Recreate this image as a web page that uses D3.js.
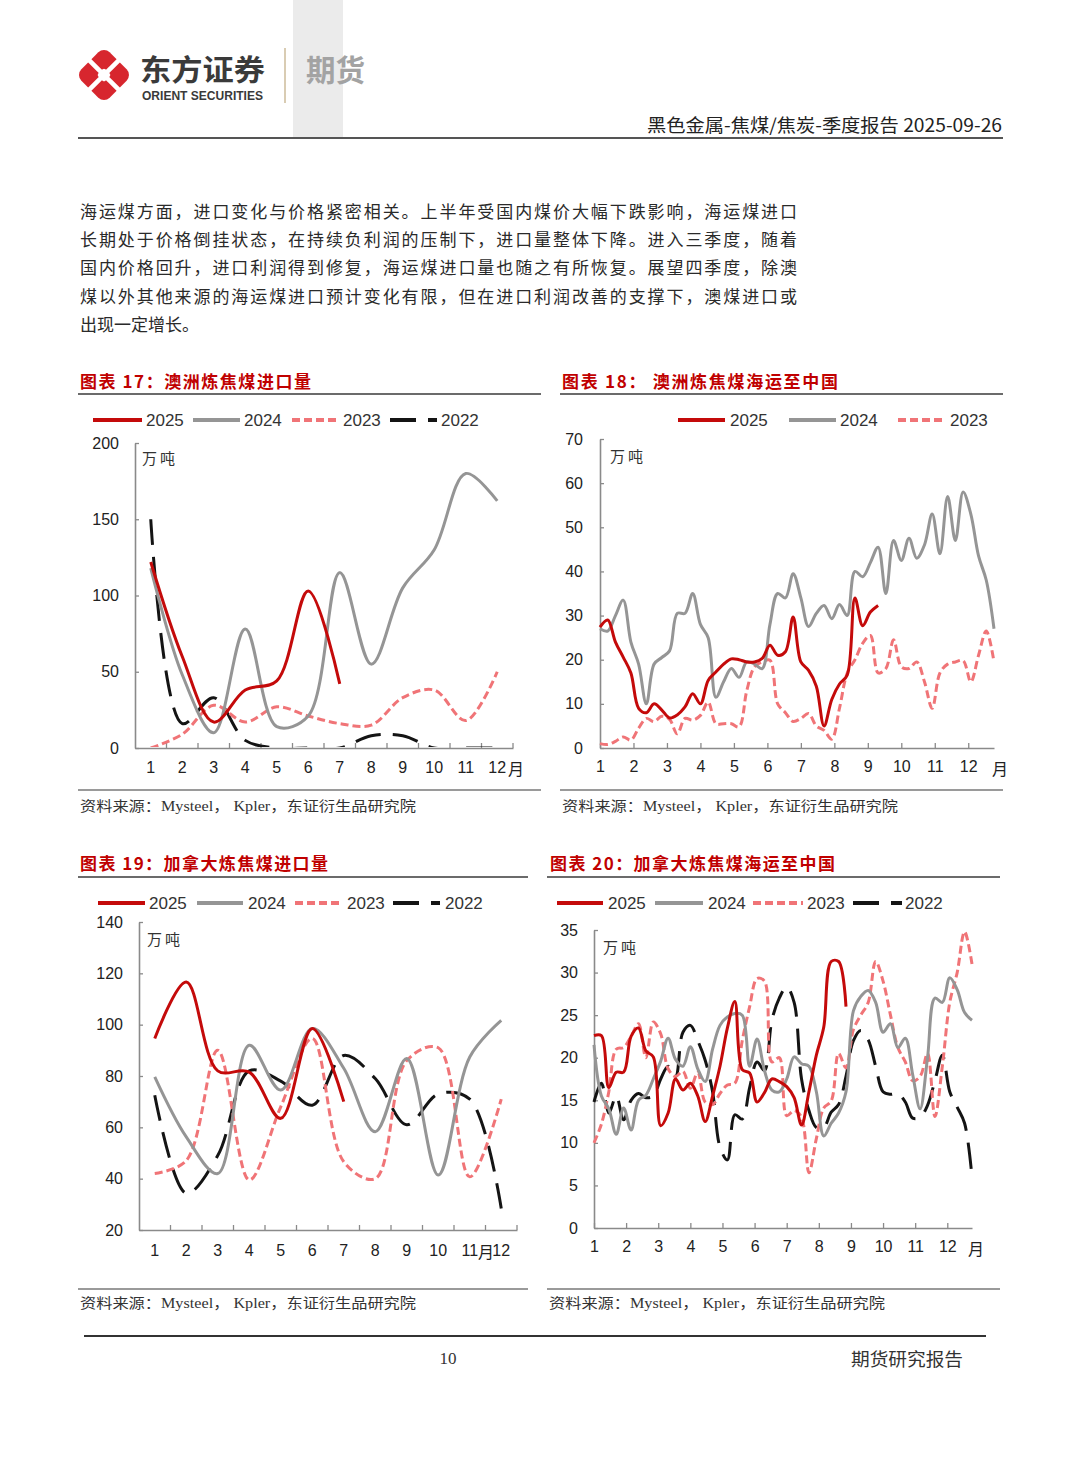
<!DOCTYPE html>
<html><head><meta charset="utf-8">
<script src="https://cdn.jsdelivr.net/npm/d3@7"></script>
<style>
body{margin:0;background:#fff;}
svg{display:block;}
</style></head><body>
<svg id="page" width="1080" height="1465"></svg>
<script>
// ---------- DATA ----------
const months = ["1","2","3","4","5","6","7","8","9","10","11","12"];
const years = ["2025","2024","2023","2022"];

// 图表17 澳洲炼焦煤进口量 (monthly, 万吨)
const auImp2025 = [122,60,17,38,44,103,42];
const auImp2024 = [118,48,10,78,14,21,115,55,105,130,180,162];
const auImp2023 = [0,9,28,17,27,21,16,15,33,38,18,50];
const auImp2022 = [150,16,33,5,0,0,0,8,8,0,0,0];

// 图表18 澳洲炼焦煤海运至中国 (weekly, 万吨)
const auSea2025 = [27.4,29,24,20.6,17,9,8,10,8.6,6.8,7.5,9.3,12.3,10,15.3,17.2,19,20.2,20,19.5,19.5,20.3,23.3,21,21.8,29.7,19.5,17.6,14,5,11,14.5,16.5,34,27.7,30.8,32.3];
const auSea2024 = [27,26.5,30,33.5,24,19,10,19,20.5,22,30.5,30.5,35,28,25,11.5,15,18,16,19.5,19,18,28,35,34,39.5,34,27.5,30.5,32.3,29.3,32.5,30,40,38.8,42,45.5,35,47,42.5,47.5,43,46,53,44,57,47,58,53,43.5,38,27];
const auSea2023 = [1,0.8,1.5,2.5,1.8,4.5,6.7,6,7.2,6.5,3.2,6.7,6.3,7.4,10.4,5.5,5.5,5.5,4.8,13,18.4,19.5,19.9,10,8,6,6.7,7.8,5,4,2,9,17,20,23.7,25.5,17,18,24.5,18.4,18,19.5,15,9,17,19,19.5,19.8,15,21,26.5,19.5];

// 图表19 加拿大炼焦煤进口量 (monthly, 万吨)
const caImp2025 = [94.6,116.6,82,81.5,63.5,98.5,70];
const caImp2024 = [79.7,56.3,42,92,74.5,98.5,83,58.3,86.8,41.4,87.4,101.7];
const caImp2023 = [42,47,90,39.5,68,94.6,46.6,40,86,91,40.7,71];
const caImp2022 = [72.5,34.3,49,82,78,68.6,88,79,61,73,71,28.4];

// 图表20 加拿大炼焦煤海运至中国 (weekly, 万吨)
const caSea2025 = [22.6,22.6,16.5,18.3,18.3,22.5,23.5,20.8,20.1,12,13.5,17.5,16.2,17,15.5,12.5,15.5,19,23.5,26.6,18.6,18.2,14.8,15.9,17.5,17.2,16.6,15.3,12.1,16,20.3,23.6,31.3,31.3,26];
const caSea2024 = [21.5,15.5,14,11,14.1,11.5,15,15.6,17.5,19.6,22.3,19.8,19,21.3,18.7,17.2,21,23.8,24.8,25.2,25,19,22.2,18.5,16.2,16,17.5,20.1,19.3,19,16,10.8,12.3,13.5,16,25.5,27.2,27.9,26.5,23,24,21.2,22.3,18,14,20,27,26.5,29.4,28,25.3,24.4];
const caSea2023 = [10,12.2,16,21,21.2,22.5,24,20,24.2,22.8,18.7,17.8,18.4,16.4,18.3,14.8,14.5,15.8,16.8,17,22,26,29.3,29,19.5,20,13.2,13.8,13,6.5,10.5,14.1,14.9,20.5,18.8,23.3,25,26.5,31.3,29,25,21.2,19.5,17.3,17.8,20.5,13.1,19,26.5,30,34.8,31];
const caSea2022 = [14.8,17,13.5,15.5,12.7,15,15.8,15.3,15.5,17.5,19,17.8,23,23.8,22,19.7,16,9.5,8,13.3,12.8,16.5,19.5,18.5,24.4,27,28.3,26.5,17.5,13.8,11.8,11.8,13.6,14.5,17.8,22,23.2,22.1,19,16,15.7,15.8,14.8,12.9,13,14.4,17.3,20.3,16,14.2,12.3,6];

const yTicks17 = [0,50,100,150,200];
const yTicks18 = [0,10,20,30,40,50,60,70];
const yTicks19 = [20,40,60,80,100,120,140];
const yTicks20 = [0,5,10,15,20,25,30,35];

const paragraph = [
  "海运煤方面，进口变化与价格紧密相关。上半年受国内煤价大幅下跌影响，海运煤进口",
  "长期处于价格倒挂状态，在持续负利润的压制下，进口量整体下降。进入三季度，随着",
  "国内价格回升，进口利润得到修复，海运煤进口量也随之有所恢复。展望四季度，除澳",
  "煤以外其他来源的海运煤进口预计变化有限，但在进口利润改善的支撑下，澳煤进口或",
  "出现一定增长。"
];
const sourceText = "资料来源：Mysteel，  Kpler，东证衍生品研究院";

// ---------- STYLE ----------
const FONT_CN = "'Noto Sans CJK SC', sans-serif";
const FONT_NUM = "'Liberation Sans', Arial, sans-serif";
const FONT_SERIF = "'Liberation Serif', 'Noto Sans CJK SC', serif";
const STY = {
  "2025": {color: "#c40a0a", dash: null},
  "2024": {color: "#959595", dash: null},
  "2023": {color: "#f07477", dash: "8,4"},
  "2022": {color: "#141414", dash: "26,12"}
};

const svg = d3.select("#page");

// ---------- HEADER ----------
svg.append("rect").attr("x", 293).attr("y", 0).attr("width", 50).attr("height", 138).attr("fill", "#ebebeb");
const logo = svg.append("g").attr("transform", "translate(104,75) rotate(45)");
logo.append("rect").attr("x", -20).attr("y", -20).attr("width", 40).attr("height", 40).attr("rx", 8).attr("fill", "#d7262e");
logo.append("rect").attr("x", -24).attr("y", -2.3).attr("width", 48).attr("height", 4.6).attr("fill", "#fff");
logo.append("rect").attr("x", -2.3).attr("y", -24).attr("width", 4.6).attr("height", 48).attr("fill", "#fff");
logo.append("rect").attr("x", -5).attr("y", -5).attr("width", 10).attr("height", 10).attr("rx", 2).attr("fill", "#fff");

svg.append("text").attr("x", 140).attr("y", 81).attr("font-family", FONT_CN).attr("font-weight", 700)
  .attr("font-size", 29).attr("fill", "#3a3a3a").attr("textLength", 125).attr("lengthAdjust", "spacingAndGlyphs").text("东方证券");
svg.append("text").attr("x", 142).attr("y", 100).attr("font-family", FONT_NUM).attr("font-weight", 700)
  .attr("font-size", 12).attr("fill", "#3a3a3a").attr("textLength", 121).attr("lengthAdjust", "spacingAndGlyphs").text("ORIENT SECURITIES");
svg.append("line").attr("x1", 285).attr("x2", 285).attr("y1", 48).attr("y2", 103).attr("stroke", "#cdbb9a").attr("stroke-width", 1.5);
svg.append("text").attr("x", 306).attr("y", 81).attr("font-family", FONT_CN).attr("font-weight", 700)
  .attr("font-size", 30).attr("fill", "#a3a3a3").attr("textLength", 59).attr("lengthAdjust", "spacingAndGlyphs").text("期货");
svg.append("line").attr("x1", 78).attr("x2", 1003).attr("y1", 138).attr("y2", 138).attr("stroke", "#555").attr("stroke-width", 2);
svg.append("text").attr("x", 1002).attr("y", 124).attr("text-anchor", "end").attr("dominant-baseline", "central")
  .attr("font-family", FONT_CN).attr("font-size", 18).attr("fill", "#222").attr("textLength", 355).attr("lengthAdjust", "spacingAndGlyphs")
  .text("黑色金属-焦煤/焦炭-季度报告 2025-09-26");

// ---------- PARAGRAPH ----------
const lineYs = [210, 238, 266, 295, 323];
paragraph.forEach((t, i) => {
  const tx = svg.append("text").attr("x", 80).attr("y", lineYs[i]).attr("dominant-baseline", "central")
    .attr("font-family", FONT_CN).attr("font-size", 17).attr("fill", "#2a2a2a").text(t);
  if (i < paragraph.length - 1) tx.attr("textLength", 717).attr("lengthAdjust", "spacing");
});

// ---------- CHART FUNCTION ----------
let clipId = 0;
function drawChart(o) {
  const g = svg.append("g");
  // title
  g.append("text").attr("x", o.title.x).attr("y", o.title.y).attr("dominant-baseline", "central")
    .attr("font-family", FONT_CN).attr("font-weight", 700).attr("font-size", 17).attr("fill", "#c00000")
    .attr("textLength", o.title.len).attr("lengthAdjust", "spacing").text(o.title.text);
  g.append("line").attr("x1", o.titleRule[0]).attr("x2", o.titleRule[1]).attr("y1", o.titleRule[2]).attr("y2", o.titleRule[2])
    .attr("stroke", "#3a3a3a").attr("stroke-width", 1.3);
  // source
  g.append("line").attr("x1", o.srcRule[0]).attr("x2", o.srcRule[1]).attr("y1", o.srcRule[2]).attr("y2", o.srcRule[2])
    .attr("stroke", "#9a9a9a").attr("stroke-width", 2);
  g.append("text").attr("x", o.src.x).attr("y", o.src.y).attr("dominant-baseline", "central")
    .attr("font-family", FONT_SERIF).attr("font-size", 14).attr("fill", "#333")
    .attr("textLength", 336).attr("lengthAdjust", "spacingAndGlyphs").text(sourceText);

  // scales
  const y = d3.scaleLinear().domain(o.yDomain).range([o.yBottom, o.yTop]);
  let x, xPos;
  if (o.type === "band") {
    x = d3.scaleBand().domain(months).range([o.x0, o.x1]);
    xPos = (d, i) => x(months[i]) + x.bandwidth() / 2;
  } else {
    x = d3.scaleLinear().domain([0, 51]).range([o.x0, o.x1]);
    xPos = (d, i) => x(i);
  }

  // y axis
  const ya = g.append("g").attr("transform", `translate(${o.x0},0)`)
    .call(d3.axisLeft(y).tickValues(o.yTicks).tickSize(-4).tickSizeOuter(0).tickPadding(o.yPad));
  // x axis
  let xa;
  if (o.type === "band") {
    xa = g.append("g").attr("transform", `translate(0,${o.yBottom})`)
      .call(d3.axisBottom(x).tickSize(0).tickSizeOuter(0).tickPadding(o.xPad));
    const step = x.step();
    g.append("g").selectAll("line").data(d3.range(1, 13)).join("line")
      .attr("x1", i => o.x0 + i * step).attr("x2", i => o.x0 + i * step)
      .attr("y1", o.yBottom).attr("y2", o.yBottom - 5).attr("stroke", "#8a8a8a").attr("stroke-width", 1.3);
  } else {
    const mt = months.map((m, i) => i * 52 / 12);
    xa = g.append("g").attr("transform", `translate(0,${o.yBottom})`)
      .call(d3.axisBottom(x).tickValues(mt).tickFormat((d, i) => months[i]).tickSize(-5).tickSizeOuter(0).tickPadding(o.xPad));
  }
  [ya, xa].forEach(a => {
    a.select(".domain").attr("stroke", "#8a8a8a").attr("stroke-width", 1.6);
    a.selectAll(".tick line").attr("stroke", "#8a8a8a").attr("stroke-width", 1.3);
    a.selectAll(".tick text").attr("font-family", FONT_NUM).attr("font-size", 16).attr("fill", "#222");
  });
  // 月
  g.append("text").attr("x", o.yue[0]).attr("y", o.yue[1]).attr("text-anchor", "middle").attr("dominant-baseline", "central")
    .attr("font-family", FONT_CN).attr("font-size", 16).attr("fill", "#222").text("月");
  // unit
  g.append("text").attr("x", o.unit[0]).attr("y", o.unit[1]).attr("dominant-baseline", "central")
    .attr("font-family", FONT_CN).attr("font-size", 15).attr("letter-spacing", 3).attr("fill", "#333").text("万吨");

  // clip
  const cid = "clip" + (clipId++);
  g.append("clipPath").attr("id", cid).append("rect")
    .attr("x", o.x0 - 10).attr("y", o.yTop - 20).attr("width", o.x1 - o.x0 + 20).attr("height", o.yBottom - o.yTop + 19);

  const line = d3.line().x(xPos).y(d => y(d)).curve(d3.curveCatmullRom.alpha(0.5));
  const pg = g.append("g").attr("clip-path", `url(#${cid})`);
  o.series.slice().reverse().forEach(s => {
    const st = STY[s.name];
    pg.append("path").datum(s.values).attr("d", line).attr("fill", "none")
      .attr("stroke", st.color).attr("stroke-width", 3).attr("stroke-linejoin", "round")
      .attr("stroke-dasharray", st.dash);
  });

  // legend
  o.legend.forEach(l => {
    const st = STY[l.name];
    g.append("line").attr("x1", l.lx[0]).attr("x2", l.lx[1]).attr("y1", o.legendY).attr("y2", o.legendY)
      .attr("stroke", st.color).attr("stroke-width", 3.8).attr("stroke-dasharray", st.dash);
    g.append("text").attr("x", l.tx).attr("y", o.legendY).attr("dominant-baseline", "central")
      .attr("font-family", FONT_NUM).attr("font-size", 17).attr("fill", "#333").text(l.name);
  });
}

// ---------- CHART 17 ----------
drawChart({
  title: {x: 80, y: 380, len: 231, text: "图表 17：澳洲炼焦煤进口量"},
  titleRule: [78, 541, 394],
  srcRule: [78, 541, 790], src: {x: 80, y: 806},
  type: "band", x0: 135, x1: 513, yTop: 443, yBottom: 748, yDomain: [0, 200], yTicks: yTicks17, yPad: 16, xPad: 14,
  yue: [516, 768], unit: [142, 457],
  series: [{name: "2025", values: auImp2025}, {name: "2024", values: auImp2024}, {name: "2023", values: auImp2023}, {name: "2022", values: auImp2022}],
  legendY: 420,
  legend: [{name: "2025", lx: [93, 142], tx: 146}, {name: "2024", lx: [193, 240], tx: 244}, {name: "2023", lx: [292, 338], tx: 343}, {name: "2022", lx: [390, 437], tx: 441}]
});

// ---------- CHART 18 ----------
drawChart({
  title: {x: 562, y: 380, len: 276, text: "图表 18：  澳洲炼焦煤海运至中国"},
  titleRule: [560, 1003, 394],
  srcRule: [560, 1003, 790], src: {x: 562, y: 806},
  type: "week", x0: 600, x1: 994, yTop: 439, yBottom: 748, yDomain: [0, 70], yTicks: yTicks18, yPad: 17, xPad: 13,
  yue: [1000, 768], unit: [610, 455],
  series: [{name: "2025", values: auSea2025}, {name: "2024", values: auSea2024}, {name: "2023", values: auSea2023}],
  legendY: 420,
  legend: [{name: "2025", lx: [678, 725], tx: 730}, {name: "2024", lx: [789, 836], tx: 840}, {name: "2023", lx: [898, 945], tx: 950}]
});

// ---------- CHART 19 ----------
drawChart({
  title: {x: 80, y: 862, len: 248, text: "图表 19：加拿大炼焦煤进口量"},
  titleRule: [78, 528, 877],
  srcRule: [78, 528, 1289], src: {x: 80, y: 1303},
  type: "band", x0: 139, x1: 517, yTop: 922, yBottom: 1230, yDomain: [20, 140], yTicks: yTicks19, yPad: 16, xPad: 15,
  yue: [486, 1251], unit: [147, 938],
  series: [{name: "2025", values: caImp2025}, {name: "2024", values: caImp2024}, {name: "2023", values: caImp2023}, {name: "2022", values: caImp2022}],
  legendY: 903,
  legend: [{name: "2025", lx: [98, 145], tx: 149}, {name: "2024", lx: [197, 243], tx: 248}, {name: "2023", lx: [295, 342], tx: 347}, {name: "2022", lx: [393, 440], tx: 445}]
});

// ---------- CHART 20 ----------
drawChart({
  title: {x: 550, y: 862, len: 285, text: "图表 20：加拿大炼焦煤海运至中国"},
  titleRule: [547, 1000, 877],
  srcRule: [547, 1000, 1289], src: {x: 549, y: 1303},
  type: "week", x0: 594, x1: 972, yTop: 930, yBottom: 1228, yDomain: [0, 35], yTicks: yTicks20, yPad: 16, xPad: 13,
  yue: [976, 1248], unit: [603, 946],
  series: [{name: "2025", values: caSea2025}, {name: "2024", values: caSea2024}, {name: "2023", values: caSea2023}, {name: "2022", values: caSea2022}],
  legendY: 903,
  legend: [{name: "2025", lx: [557, 603], tx: 608}, {name: "2024", lx: [655, 703], tx: 708}, {name: "2023", lx: [753, 803], tx: 807}, {name: "2022", lx: [853, 902], tx: 905}]
});

// ---------- FOOTER ----------
svg.append("line").attr("x1", 84).attr("x2", 986).attr("y1", 1336).attr("y2", 1336).attr("stroke", "#333").attr("stroke-width", 2);
svg.append("text").attr("x", 448).attr("y", 1358).attr("text-anchor", "middle").attr("dominant-baseline", "central")
  .attr("font-family", FONT_SERIF).attr("font-size", 17).attr("fill", "#333").text("10");
svg.append("text").attr("x", 963).attr("y", 1358).attr("text-anchor", "end").attr("dominant-baseline", "central")
  .attr("font-family", FONT_CN).attr("font-size", 18).attr("fill", "#333").attr("textLength", 112).attr("lengthAdjust", "spacingAndGlyphs").text("期货研究报告");
</script>
</body></html>
